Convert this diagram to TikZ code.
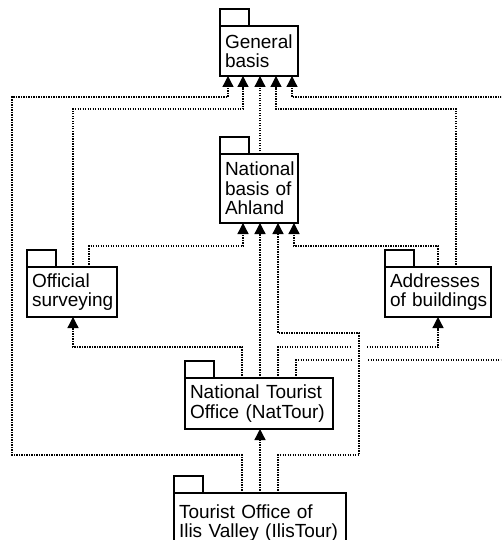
\documentclass[tikz,border=0pt]{standalone}
\usepackage{fontspec}
\setmainfont{Liberation Sans}
\usetikzlibrary{arrows.meta}
\hyphenpenalty=10000

\begin{document}
\begin{tikzpicture}[x=1pt, y=-1pt]
	\tikzstyle{pkg} = [draw, line width=1.4pt, anchor=north west, align=left, inner xsep=5pt, inner ysep=0pt, outer sep=0pt, font=\fontsize{19}{19.5}\selectfont]
	\tikzstyle{dep} = [line width=1.3pt, dash pattern=on 1.3pt off 1.2pt, -{Triangle[width=11pt, length=11pt]}]
	\useasboundingbox (0,0) rectangle (501,540);
	\clip (0,0) rectangle (501,540);
	% packages
	\node [pkg, text width=68pt, minimum height=50pt] (gen) at (220,26) {General\\basis};
	\node [pkg, text width=68pt, minimum height=69pt] (nat) at (220,154) {National\\basis of\\Ahland};
	\node [pkg, text width=80pt, minimum height=50pt] (off) at (27,267) {Official\\surveying};
	\node [pkg, text width=96pt, minimum height=50pt] (addr) at (385,267) {Addresses\\of~buildings};
	\node [pkg, text width=138pt, minimum height=51pt] (natt) at (185,378) {National Tourist\\Office (NatTour)};
	\node [pkg, text width=162pt, minimum height=60pt] (ilis) at (174,493) {Tourist Office of\\Ilis Valley (IlisTour)};
	\foreach \n in {gen, nat, off, addr, natt, ilis}
		\draw [line width=1.4pt] (\n.north west) rectangle ++(29,-17);
	% dependencies on General basis
	\draw [dep] ([xshift=68]ilis.north west) |- (12,455) |- (228,97) -- ([xshift=8]gen.south west);
	\draw [dep] ([xshift=46]off.north west) |- (243,109) -- ([xshift=23]gen.south west);
	\draw [dep] ([xshift=40]nat.north west) -- ([xshift=40]gen.south west);
	\draw [dep] ([xshift=71]addr.north west) |- (276,109) -- ([xshift=56]gen.south west);
	\draw [dep] ([xshift=111]natt.north west) |- (512,360) |- (292,97) -- ([xshift=72]gen.south west);
	% dependencies on National basis
	\draw [dep] ([xshift=62]off.north west) |- (243,246) -- ([xshift=23]nat.south west);
	\draw [dep] ([xshift=75]natt.north west) -- ([xshift=40]nat.south west);
	\draw [dep] ([xshift=53]addr.north west) |- (294,246) -- ([xshift=74]nat.south west);
	% NatTour uses the registers
	\draw [dep] ([xshift=57]natt.north west) |- (73,347) -- ([xshift=46]off.south west);
	\draw [dep] ([xshift=93]natt.north west) |- (438,347) -- ([xshift=53]addr.south west);
	\draw [dep] ([xshift=86]ilis.north west) -- ([xshift=75]natt.south west);
	% line hop
	\fill [white] (352,340) rectangle (367,367);
	\draw [dep] ([xshift=104]ilis.north west) |- (359,455) |- (278,333) -- ([xshift=58]nat.south west);
\end{tikzpicture}
\end{document}
